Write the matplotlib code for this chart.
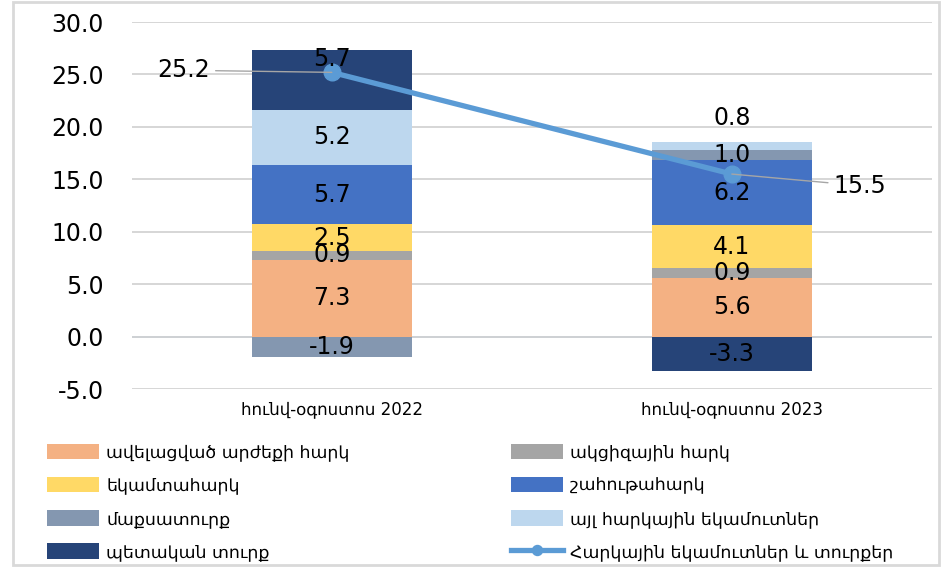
import matplotlib.pyplot as plt
import numpy as np

plt.rcParams['font.family'] = ['DejaVu Sans']

# tvyalner
periods = ["հունվ-օգոստոս 2022", "հունվ-օգոստոս 2023"]
names = ["ավելացված արժեքի հարկ", "ակցիզային հարկ", "եկամտահարկ", "շահութահարկ",
         "մաքսատուրք", "այլ հարկային եկամուտներ", "պետական տուրք"]
vat = [7.3, 5.6]
excise = [0.9, 0.9]
income = [2.5, 4.1]
profit = [5.7, 6.2]
customs = [-1.9, 1.0]
other = [5.2, 0.8]
duty = [5.7, -3.3]
total = [25.2, 15.5]
line_name = "Հարկային եկամուտներ և տուրքեր"

colors = ["#F4B183", "#A5A5A5", "#FFD966", "#4472C4", "#8497B0", "#BDD7EE", "#264478"]
series = [vat, excise, income, profit, customs, other, duty]

fig = plt.figure(figsize=(9.48, 5.69), dpi=100)
ax = fig.add_axes([0.139, 0.3163, 0.844, 0.645])

x = np.arange(len(periods))
pos_base = np.zeros(len(periods))
neg_base = np.zeros(len(periods))
bars = []
# label offsets (Excel labels moved by hand)
shift = {(6, 0): 2.0, (5, 1): 2.6}
for k, (vals, c) in enumerate(zip(series, colors)):
    vals = np.array(vals)
    base = np.where(vals >= 0, pos_base, neg_base)
    b = ax.bar(x, vals, 0.4, bottom=base, color=c, label=names[k], zorder=2)
    bars.append(b)
    for i in range(len(periods)):
        yc = base[i] + vals[i] / 2 + shift.get((k, i), 0)
        ax.text(x[i], yc, f"{vals[i]:.1f}", ha='center', va='center', fontsize=17, zorder=4)
    pos_base = np.where(vals >= 0, pos_base + vals, pos_base)
    neg_base = np.where(vals < 0, neg_base + vals, neg_base)

ln, = ax.plot(x, total, color="#5B9BD5", lw=3.8, marker='o', markersize=12, zorder=3, label=line_name)

ax.annotate(f"{total[0]:.1f}", xy=(x[0], total[0]), xytext=(-0.37, 25.4), ha='center', va='center',
            fontsize=17, arrowprops=dict(arrowstyle='-', color='#a6a6a6', lw=1, shrinkB=0), zorder=5)
ax.annotate(f"{total[1]:.1f}", xy=(x[1], total[1]), xytext=(1.32, 14.4), ha='center', va='center',
            fontsize=17, arrowprops=dict(arrowstyle='-', color='#a6a6a6', lw=1, shrinkB=0), zorder=5)

ax.set_xlim(-0.5, 1.5)
ax.set_ylim(-5, 30)
ax.set_yticks(np.arange(-5, 31, 5))
ax.set_yticklabels([f"{v:.1f}" for v in np.arange(-5, 31, 5)], fontsize=17)
ax.set_xticks(x)
ax.set_xticklabels(periods, fontsize=12)
ax.tick_params(length=0, pad=8)
ax.tick_params(axis='y', pad=20)
ax.grid(axis='y', color='#d0d0d0', lw=1.2, zorder=0)
ax.axhline(0, color='#bcd0e8', lw=1.2, zorder=1)
for s in ax.spines.values():
    s.set_visible(False)

h = [bars[0], bars[2], bars[4], bars[6], bars[1], bars[3], bars[5], ln]
lab = [names[0], names[2], names[4], names[6], names[1], names[3], names[5], line_name]
fig.legend(h, lab, ncol=2, loc='lower left', bbox_to_anchor=(0.037, -0.007), fontsize=12.5,
           frameon=False, handlelength=3.0, handleheight=1.0, columnspacing=9.3, labelspacing=0.87,
           handletextpad=0.4, borderaxespad=0.3, markerscale=0.6)

rect = plt.Rectangle((0.014, 0.007), 0.976, 0.99, fill=False, color='#d9d9d9', lw=2,
                     transform=fig.transFigure, figure=fig)
fig.patches.extend([rect])

plt.savefig('out.png')
